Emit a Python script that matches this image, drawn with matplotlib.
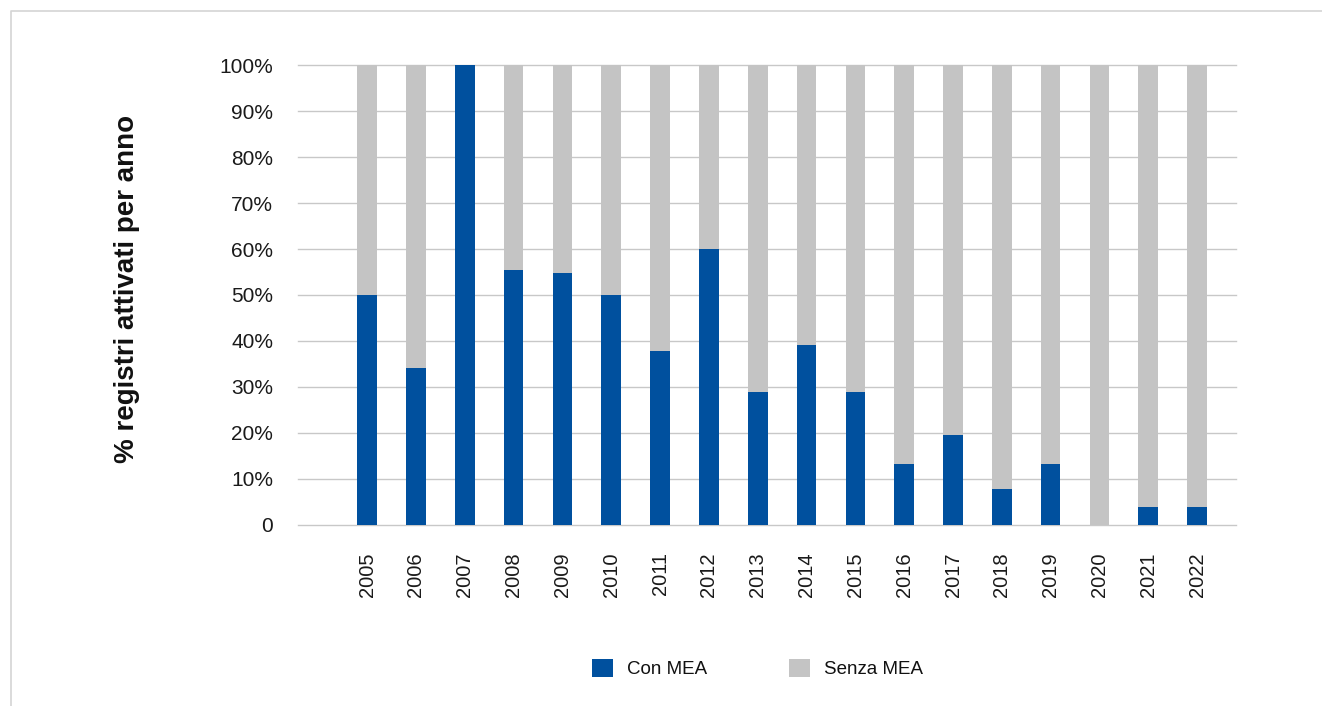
import matplotlib
matplotlib.use("Agg")
import matplotlib.pyplot as plt
from matplotlib.patches import Patch
from matplotlib.lines import Line2D
import numpy as np

years = ["2005", "2006", "2007", "2008", "2009", "2010", "2011", "2012", "2013",
         "2014", "2015", "2016", "2017", "2018", "2019", "2020", "2021", "2022"]
con_mea = [50.0, 34.1, 100.0, 55.4, 54.8, 50.0, 37.8, 60.0, 28.9,
           39.1, 28.9, 13.2, 19.5, 7.8, 13.2, 0.0, 3.8, 3.8]
senza_mea = [100.0 - v for v in con_mea]
y_ticks = [0, 10, 20, 30, 40, 50, 60, 70, 80, 90, 100]
y_tick_labels = ["0", "10%", "20%", "30%", "40%", "50%", "60%", "70%", "80%", "90%", "100%"]

BLUE = "#00509E"
GREY = "#C4C4C4"
FONT = "Liberation Sans"

W, H = 1322, 706
fig = plt.figure(figsize=(W / 100, H / 100), dpi=100)
ax = fig.add_axes([298.3 / W, 1 - 524.7 / H, (1235.7 - 298.3) / W, (524.7 - 65.3) / H])

x = np.arange(len(years))
bw = 0.403
ax.bar(x, con_mea, width=bw, color=BLUE, zorder=3)
ax.bar(x, senza_mea, width=bw, bottom=con_mea, color=GREY, zorder=3)

ax.set_xlim(-1.41, 17.79)
ax.set_ylim(0, 100)
ax.set_yticks(y_ticks)
ax.set_yticklabels(y_tick_labels, fontfamily=FONT, fontsize=15)
ax.set_xticks(x)
ax.set_xticklabels(years, rotation=90, fontfamily=FONT, fontsize=14.5)
ax.tick_params(axis="y", length=0, pad=18, colors="#1a1a1a")
ax.tick_params(axis="x", length=0, pad=20, colors="#1a1a1a")
ax.grid(axis="y", color="#C8C8C8", linewidth=1.0, zorder=0)
for gl in ax.yaxis.get_gridlines():
    gl.set_clip_on(False)
for s in ax.spines.values():
    s.set_visible(False)

fig.text(127 / W, 1 - 289 / H, "% registri attivati per anno", rotation=90,
         ha="center", va="center", fontfamily=FONT, fontweight="bold", fontsize=20,
         color="#111111")

handles = [Patch(facecolor=BLUE, edgecolor="none", label="Con MEA"),
           Patch(facecolor=GREY, edgecolor="none", label="Senza MEA")]
fig.legend(handles=handles, loc="center", bbox_to_anchor=(757.5 / W, 1 - 668.5 / H),
           ncol=2, frameon=False, prop={"family": FONT, "size": 13.5},
           handlelength=1.12, handleheight=1.12, handletextpad=0.75,
           columnspacing=4.37, borderpad=0, labelcolor="#111111")

# outer frame (top and left visible)
fig.add_artist(Line2D([10.5 / W, 10.5 / W, 1.0], [0.0, 1 - 10.5 / H, 1 - 10.5 / H],
                      transform=fig.transFigure, color="#D4D4D4", linewidth=1.2))

fig.savefig("out.png", dpi=100)
